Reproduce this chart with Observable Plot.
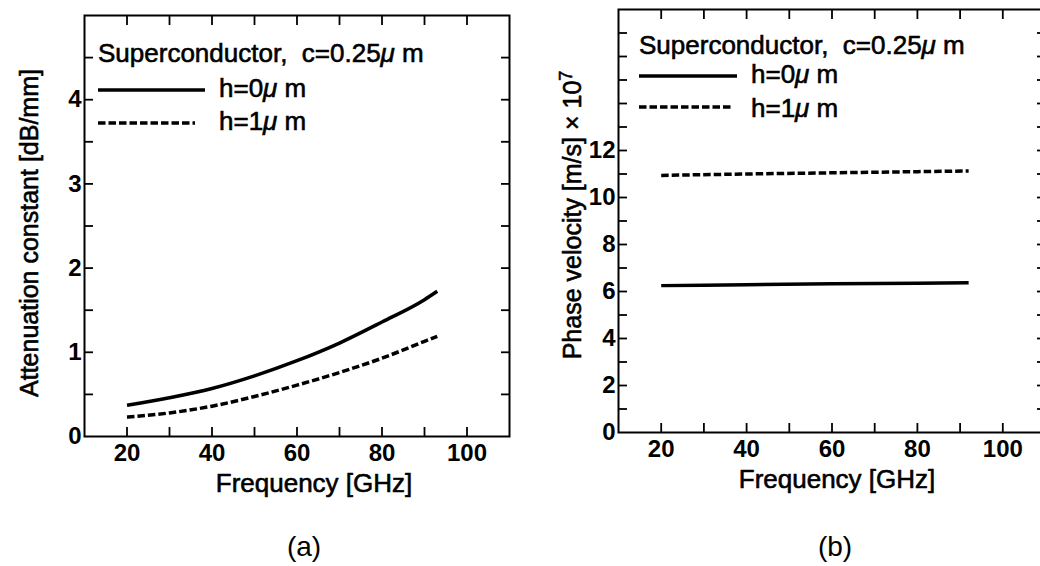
<!DOCTYPE html>
<html><head><meta charset="utf-8">
<script src="https://cdn.jsdelivr.net/npm/d3@7"></script>
<script src="https://cdn.jsdelivr.net/npm/@observablehq/plot@0.6"></script>
<style>
html,body{margin:0;padding:0;background:#fff;}
#wrap{position:relative;width:1040px;height:566px;overflow:hidden;background:#fff;font-family:"Liberation Sans",Arial,sans-serif;color:#000;}
#wrap > svg.plot{position:absolute;top:0;}
.t{position:absolute;font-size:26px;line-height:26px;white-space:nowrap;-webkit-text-stroke:0.6px #000;}
.t i{font-style:italic;}
.sw{position:absolute;overflow:visible;}
.cap{position:absolute;font-size:28px;line-height:28px;white-space:nowrap;transform:translateX(-50%);}
</style></head><body><div id="wrap"></div>
<script>
// ---- data ----
const freqA   = [20, 30, 40, 50, 60, 70, 80, 90, 93];
const attenH0 = [0.37, 0.46, 0.57, 0.72, 0.90, 1.11, 1.36, 1.625, 1.725];
const attenH1 = [0.23, 0.28, 0.36, 0.475, 0.61, 0.76, 0.93, 1.13, 1.19];
const freqB   = [20, 40, 60, 80, 92];
const velH0   = [6.25, 6.29, 6.33, 6.35, 6.37];
const velH1   = [10.94, 11.0, 11.05, 11.1, 11.13];
const seriesNames = ["h=0 μm", "h=1 μm"];
const legendTitle = "Superconductor,  c=0.25 μm";
const xTickMarks  = [20, 30, 40, 50, 60, 70, 80, 90, 100];
const xTickLabels = [20, 40, 60, 80, 100];
const yTickMarksA  = [0.5, 1, 1.5, 2, 2.5, 3, 3.5, 4, 4.5];
const yTickLabelsA = [0, 1, 2, 3, 4];
const yTickMarksB  = [1, 2, 3, 4, 5, 6, 7, 8, 9, 10, 11, 12, 13, 14, 15, 16, 17];
const yTickLabelsB = [0, 2, 4, 6, 8, 10, 12];
const xLabel  = "Frequency [GHz]";
const yLabelA = "Attenuation constant [dB/mm]";
const yLabelB = "Phase velocity [m/s] × 10⁷";
const panelNames = ["(a)", "(b)"];

const rowsA = [
  ...freqA.map((f, i) => ({freq: f, value: attenH0[i], series: seriesNames[0]})),
  ...freqA.map((f, i) => ({freq: f, value: attenH1[i], series: seriesNames[1]}))
];
const rowsB = [
  ...freqB.map((f, i) => ({freq: f, value: velH0[i], series: seriesNames[0]})),
  ...freqB.map((f, i) => ({freq: f, value: velH1[i], series: seriesNames[1]}))
];

const FONT = '"Liberation Sans", Arial, sans-serif';
const DASH = "7.5,3";

function panel({rows, width, marginLeft, marginRight, marginTop, marginBottom, yDomain,
                yMarks, yLabels, yLabel, yLabelSize, yLabelDx, yLabelDy, xLabelDx}) {
  return Plot.plot({
    width, height: 566, marginLeft, marginRight, marginTop, marginBottom,
    style: {fontFamily: FONT, fontSize: "24px", color: "#000", background: "transparent", overflow: "visible"},
    x: {domain: [10, 110]},
    y: {domain: yDomain},
    marks: [
      Plot.axisX(xTickMarks, {anchor: "bottom", tickSize: -9, strokeWidth: 1.8, text: null, label: null}),
      Plot.axisX(xTickMarks, {anchor: "top", tickSize: -9, strokeWidth: 1.8, text: null, label: null}),
      Plot.axisX(xTickLabels, {anchor: "bottom", tickSize: 0, tickPadding: 7, fontWeight: "bold", fontSize: 24, tickFormat: d => String(d), label: null}),
      Plot.axisY(yMarks, {anchor: "left", tickSize: -9, strokeWidth: 1.8, text: null, label: null}),
      Plot.axisY(yMarks, {anchor: "right", tickSize: -9, strokeWidth: 1.8, text: null, label: null}),
      Plot.axisY(yLabels, {anchor: "left", tickSize: 0, tickPadding: 3, fontWeight: "bold", fontSize: 24, tickFormat: d => String(d), label: null}),
      Plot.frame({stroke: "#000", strokeWidth: 2}),
      Plot.line(rows.filter(d => d.series === seriesNames[0]), {x: "freq", y: "value", curve: "monotone-x", stroke: "#000", strokeWidth: 3.5, strokeLinecap: "butt"}),
      Plot.line(rows.filter(d => d.series === seriesNames[1]), {x: "freq", y: "value", curve: "monotone-x", stroke: "#000", strokeWidth: 3.5, strokeLinecap: "butt", strokeDasharray: DASH}),
      Plot.text([xLabel], {text: d => d, frameAnchor: "bottom", lineAnchor: "bottom", dy: 55, dx: xLabelDx, fontSize: 26, fill: "#000", stroke: "#000", strokeWidth: 0.6}),
      Plot.text([yLabel], {text: d => d, frameAnchor: "left", rotate: -90, lineAnchor: "bottom", textAnchor: "middle", dx: yLabelDx, dy: yLabelDy, fontSize: yLabelSize, fill: "#000", stroke: "#000", strokeWidth: 0.6})
    ]
  });
}

const wrap = document.getElementById("wrap");

const plotA = panel({rows: rowsA, width: 520, marginLeft: 84, marginRight: 11, marginTop: 15, marginBottom: 130,
  yDomain: [0, 5], yMarks: yTickMarksA, yLabels: yTickLabelsA, yLabel: yLabelA, yLabelSize: 25, yLabelDx: -47, yLabelDy: 7, xLabelDx: 17});
plotA.classList.add("plot"); plotA.style.left = "0px";
wrap.appendChild(plotA);

const plotB = panel({rows: rowsB, width: 540, marginLeft: 98, marginRight: 15, marginTop: 9, marginBottom: 134,
  yDomain: [0, 18], yMarks: yTickMarksB, yLabels: yTickLabelsB, yLabel: yLabelB, yLabelSize: 25, yLabelDx: -38, yLabelDy: -6, xLabelDx: 5});
plotB.classList.add("plot"); plotB.style.left = "520px";
wrap.appendChild(plotB);

// render the exponent of the phase-velocity label as a real superscript
d3.select(plotB).selectAll("text").filter(function() { return this.textContent === yLabelB; })
  .each(function() {
    const t = d3.select(this);
    t.text(yLabelB.replace("⁷", ""));
    t.append("tspan").attr("dy", "-0.45em").attr("font-size", "18px").text("7");
  });

// ---- legends (HTML overlay) ----
const fmt = s => s.replace(" μm", "<i>μ</i>&nbsp;m").replace("  ", "&nbsp; ");
function addText(html, left, baseline, size = 26) {
  const d = document.createElement("div");
  d.className = "t"; d.innerHTML = html;
  d.style.left = left + "px"; d.style.top = (baseline - 0.8465 * size) + "px";
  wrap.appendChild(d);
}
function addSwatch(left, y, w, dash) {
  const s = d3.create("svg").attr("class", "sw").attr("width", w).attr("height", 8)
    .style("left", left + "px").style("top", (y - 4) + "px");
  s.append("line").attr("x1", 0).attr("x2", w).attr("y1", 4).attr("y2", 4)
    .attr("stroke", "#000").attr("stroke-width", 3.5).attr("stroke-dasharray", dash || null);
  wrap.appendChild(s.node());
}
function legend(o) {
  addText(fmt(legendTitle), o.left, o.titleBase);
  addSwatch(o.left, o.y0, o.w0, null);
  addText(fmt(seriesNames[0]), o.textLeft, o.base0);
  addSwatch(o.left, o.y1, o.w1, DASH);
  addText(fmt(seriesNames[1]), o.textLeft, o.base1);
}
legend({left: 98, titleBase: 62, y0: 90, w0: 107, base0: 97, y1: 123, w1: 97, base1: 130, textLeft: 219});
legend({left: 639, titleBase: 54, y0: 76, w0: 98, base0: 83, y1: 107, w1: 92, base1: 117, textLeft: 751});

function caption(text, cx) {
  const d = document.createElement("div");
  d.className = "cap"; d.textContent = text;
  d.style.left = cx + "px"; d.style.top = "533px";
  wrap.appendChild(d);
}
caption(panelNames[0], 304);
caption(panelNames[1], 835);
</script></body></html>
